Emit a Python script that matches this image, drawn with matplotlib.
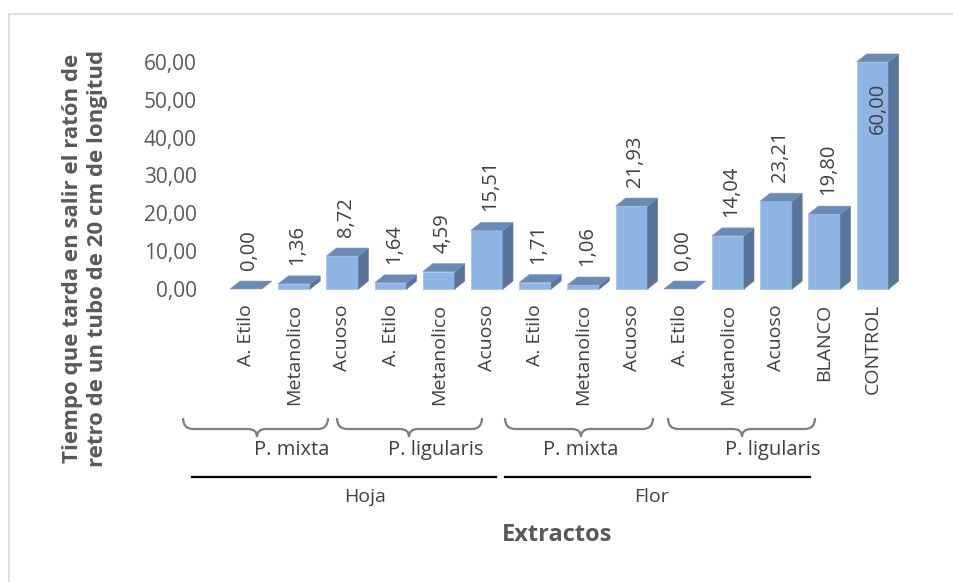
import matplotlib
matplotlib.use('Agg')
import matplotlib.pyplot as plt
from matplotlib.patches import Polygon, PathPatch, Rectangle
from matplotlib.path import Path
from matplotlib.lines import Line2D

plt.rcParams['font.family'] = ['Open Sans', 'DejaVu Sans']

# Tiempo (s) por extracto
categorias = ['A. Etilo', 'Metanolico', 'Acuoso',
              'A. Etilo', 'Metanolico', 'Acuoso',
              'A. Etilo', 'Metanolico', 'Acuoso',
              'A. Etilo', 'Metanolico', 'Acuoso',
              'BLANCO', 'CONTROL']
tiempos = [0.00, 1.36, 8.72, 1.64, 4.59, 15.51,
           1.71, 1.06, 21.93, 0.00, 14.04, 23.21,
           19.80, 60.00]
yticks = [0, 10, 20, 30, 40, 50, 60]

especies = ['P. mixta', 'P. ligularis', 'P. mixta', 'P. ligularis']
organos = ['Hoja', 'Flor']

W, H = 954, 582
front_c = '#8DB4E2'
top_c = '#6A8AB5'
side_c = '#58749A'
text_c = '#595959'


def fmt(v):
    return '{:.2f}'.format(v).replace('.', ',')


fig = plt.figure(figsize=(W / 100, H / 100), dpi=100)


def fx(x):
    return x / W


def fy(y):
    return 1 - y / H


# plot area in pixels: left 210, right 910, top 40, bottom 295
ax = fig.add_axes([fx(210), fy(295), (910 - 210) / W, (295 - 40) / H])
ax.set_xlim(-0.747, 13.776)
ax.set_ylim(-1.585, 65.79)
for s in ax.spines.values():
    s.set_visible(False)
ax.patch.set_visible(False)

hw = 0.332   # half width of the front face
dx = 0.207   # depth offset (category units)
dy = 2.11    # depth offset (value units)

for i, v in enumerate(tiempos):
    l, r = i - hw, i + hw
    if v > 0:
        ax.add_patch(Polygon([(l, 0), (r, 0), (r, v), (l, v)], closed=True,
                             facecolor=front_c, edgecolor='#A9C6EA', lw=0.6))
        ax.add_patch(Polygon([(r, 0), (r + dx, dy), (r + dx, v + dy), (r, v)],
                             closed=True, facecolor=side_c, edgecolor=side_c,
                             lw=0.4))
    ax.add_patch(Polygon([(l, v), (r, v), (r + dx, v + dy), (l + dx, v + dy)],
                         closed=True, facecolor=top_c, edgecolor='#7F9CC4',
                         lw=0.4))
    if v >= 50:
        ax.text(i + 0.1, v - 5.6, fmt(v), rotation=90, ha='center', va='top',
                fontsize=14.5, color='#404040')
    else:
        ax.text(i + 0.07, v + 5.0, fmt(v), rotation=90, ha='center',
                va='bottom', fontsize=14.5, color='#404040')

ax.set_yticks(yticks)
ax.set_yticklabels([fmt(t) for t in yticks], fontsize=15, color=text_c)
ax.set_xticks(range(len(categorias)))
ax.set_xticklabels(categorias, rotation=90, fontsize=14, color='#404040',
                   va='top')
ax.tick_params(axis='y', length=0, pad=9.4)
ax.tick_params(axis='x', length=0, pad=6.5)

# chart frame
fig.add_artist(Rectangle((fx(9), fy(600)), (960 - 9) / W, (600 - 14) / H,
                         transform=fig.transFigure, fill=False,
                         edgecolor='#D9D9D9', lw=1.2))


def brace(x0, x1, xt, ytop=418, ymid=429, ybot=437):
    verts = [(x0, ytop), (x0, ymid), (x0 + 10, ymid), (xt - 9, ymid),
             (xt, ymid), (xt, ybot), (xt, ymid), (xt + 9, ymid),
             (x1 - 10, ymid), (x1, ymid), (x1, ytop)]
    codes = [Path.MOVETO, Path.CURVE3, Path.CURVE3, Path.LINETO,
             Path.CURVE3, Path.CURVE3, Path.CURVE3, Path.CURVE3,
             Path.LINETO, Path.CURVE3, Path.CURVE3]
    p = Path([(fx(a), fy(b)) for a, b in verts], codes)
    fig.add_artist(PathPatch(p, transform=fig.transFigure, fill=False,
                             edgecolor='#7F7F7F', lw=1.6))


brace_spans = [(183, 328, 257), (337, 482, 409),
               (505, 653, 581), (668, 815, 742)]
especie_x = [292, 436, 581, 773]
for (a, b, t), nombre, xc in zip(brace_spans, especies, especie_x):
    brace(a, b, t)
    fig.text(fx(xc), fy(450), nombre, ha='center', va='center',
             fontsize=14.5, color='#404040')

linea_spans = [(192, 496), (505, 810)]
organo_x = [365, 652]
for (a, b), nombre, xc in zip(linea_spans, organos, organo_x):
    fig.add_artist(Line2D([fx(a), fx(b)], [fy(477), fy(477)],
                          transform=fig.transFigure, color='black', lw=1.6))
    fig.text(fx(xc), fy(497), nombre, ha='center', va='center', fontsize=14,
             color='#404040')

fig.text(fx(557), fy(535), 'Extractos', ha='center', va='center',
         fontsize=17, fontweight='bold', color=text_c)
fig.text(fx(85), fy(258),
         'Tiempo que tarda en salir el ratón de\n'
         'retro de un tubo de 20 cm de longitud',
         rotation=90, ha='center', va='center', multialignment='center',
         fontsize=16, fontweight='bold', color=text_c, linespacing=1.3)

fig.savefig('out.png', dpi=100)
